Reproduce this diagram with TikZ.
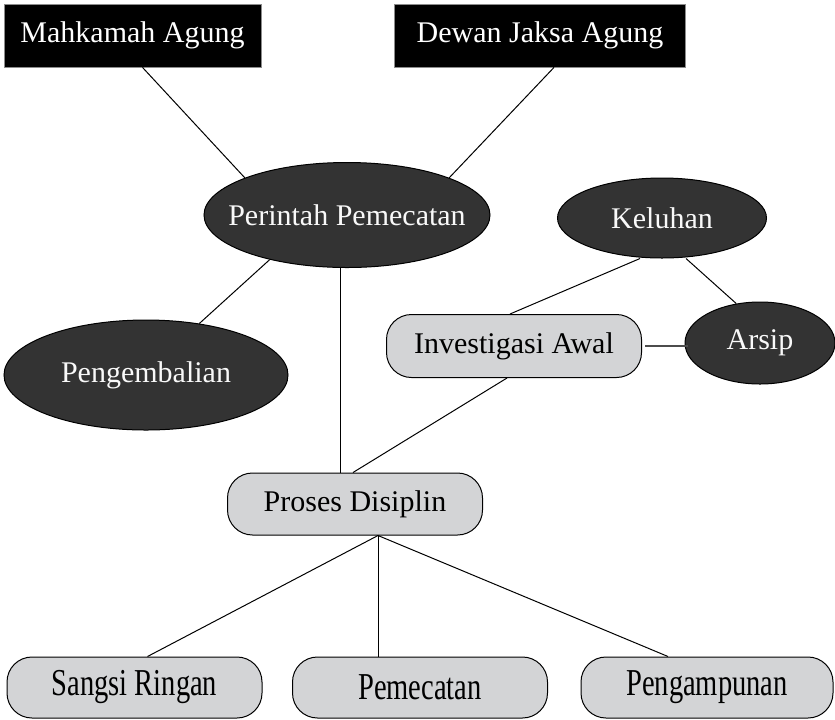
\documentclass[tikz,border=0pt]{standalone}
\usepackage{fontspec}
\setmainfont{Liberation Serif}
\usepackage{graphicx}
\usetikzlibrary{shapes.geometric,calc}
\definecolor{coal}{RGB}{51,51,51}
\definecolor{mist}{RGB}{211,212,214}
\tikzset{
  head/.style={fill=black,draw=black!45,line width=0.4pt,text=white,minimum width=#1,
    minimum height=31.5pt,inner sep=0pt,font=\fontsize{15}{17}\selectfont},
  oval/.style 2 args={ellipse,fill=coal,draw=black,line width=0.5pt,text=white!95!gray,
    minimum width=#1,minimum height=#2,inner ysep=0pt,inner xsep=-9pt,font=\fontsize{15}{17}\selectfont},
  pill/.style={rounded corners=12.5pt,fill=mist,draw=black,line width=0.5pt,
    minimum width=127.5pt,minimum height=31.5pt,inner sep=0pt,font=\fontsize{15}{17}\selectfont},
  low pill/.style={pill,minimum height=30.5pt,font=\fontsize{19}{20}\selectfont},
  link/.style={draw=black,line width=0.5pt},
}
% bottom labels are set tall and narrow
\newcommand{\squeeze}[1]{\scalebox{0.75}[1]{#1}}

\begin{document}
\begin{tikzpicture}[x=0.5pt,y=-0.5pt]
  \useasboundingbox (0,0) rectangle (835,719);
  % top
  \node[head=128.5pt] (ma) at (132.5,35.5) {Mahkamah Agung};
  \node[head=145.5pt] (dj) at (540,35.5) {Dewan Jaksa Agung};
  \node[oval={143pt}{52.5pt}] (pp) at (347,215) {Perintah Pemecatan};
  \node[oval={104.5pt}{40pt}] (ke) at (662,218) {Keluhan};
  \node[oval={75pt}{41pt}] (ar) at (760,343) {Arsip};
  \node[oval={142pt}{55pt}] (pe) at (146,375) {Pengembalian};
  \node[pill] (ia) at (514,346) {Investigasi Awal};
  \node[pill,minimum height=31pt] (pd) at (355,504) {Proses Disiplin};
  % outcomes
  \node[low pill] (sr) at (134.5,687.5) {\squeeze{Sangsi Ringan}};
  \node[low pill] (pm) at (420,687.5) {\squeeze{Pemecatan}};
  \node[low pill,minimum width=126pt] (pg) at (707,687.5) {\squeeze{Pengampunan}};

  \draw[link] ([xshift=5pt]ma.south) -- (pp.160);
  \draw[link] ([xshift=7pt]dj.south) -- (pp.20);
  \draw[link] (pp.210) -- (pe.44);
  \draw[link] ([xshift=-3.5pt]pp.south) -- ([xshift=-3.5pt]pp.south |- pd.north);
  \draw[link] ([xshift=-3.5pt]ia.south) -- ([xshift=-1pt]pd.north);
  \draw[link] ([xshift=-11pt]ke.south) -- ([xshift=-2pt]ia.north);
  \draw[link] ([xshift=12pt]ke.south) -- (ar.121);
  \draw[line width=1pt,black!70] ([xshift=1.5pt]ia.east) -- ([xshift=1.5pt]ia.east -| ar.west);
  \coordinate (pdb) at ([xshift=11.5pt]pd.south);
  \draw[link] (pdb) -- ([xshift=6.5pt]sr.north);
  \draw[link] (pdb) -- (pdb |- pm.north);
  \draw[link] (pdb) -- ([xshift=-19.5pt]pg.north);
\end{tikzpicture}
\end{document}
